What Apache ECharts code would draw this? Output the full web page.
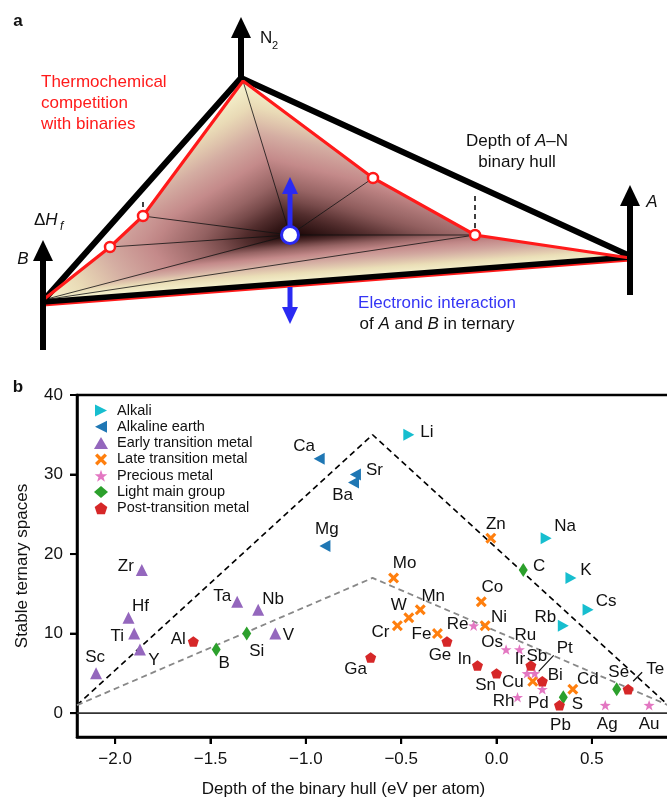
<!DOCTYPE html>
<html>
<head>
<meta charset="utf-8">
<script src="https://cdn.jsdelivr.net/npm/echarts@6/dist/echarts.min.js"></script>
<style>
  html, body { margin: 0; padding: 0; background: #fff; }
  #chart { width: 667px; height: 801px; }
</style>
</head>
<body>
<div id="chart"></div>
<script>
var FONT = '"Liberation Sans", Arial, Helvetica, sans-serif';

// ---- panel b: [element, depth of binary hull (eV/atom), stable ternary spaces]
var alkali = [['Li', -0.46, 35], ['Na', 0.26, 22], ['K', 0.39, 17], ['Rb', 0.35, 11], ['Cs', 0.48, 13]];
var alkalineEarth = [['Ca', -0.93, 32], ['Sr', -0.74, 30], ['Ba', -0.75, 29], ['Mg', -0.90, 21]];
var earlyTM = [['Zr', -1.86, 18], ['Hf', -1.93, 12], ['Ti', -1.90, 10], ['Y', -1.87, 8], ['Sc', -2.10, 5],
  ['Ta', -1.36, 14], ['Nb', -1.25, 13], ['V', -1.16, 10]];
var lateTM = [['Zn', -0.03, 22], ['Mo', -0.54, 17], ['Co', -0.08, 14], ['Mn', -0.40, 13], ['W', -0.46, 12],
  ['Cr', -0.52, 11], ['Ni', -0.06, 11], ['Fe', -0.31, 10], ['Cu', 0.19, 4], ['Cd', 0.40, 3]];
var precious = [['Re', -0.12, 11], ['Os', 0.05, 8], ['Ru', 0.12, 8], ['Ir', 0.16, 5], ['Pt', 0.20, 5],
  ['Pd', 0.24, 3], ['Rh', 0.11, 2], ['Ag', 0.57, 1], ['Au', 0.80, 1]];
var lightMain = [['C', 0.14, 18], ['B', -1.47, 8], ['Si', -1.31, 10], ['S', 0.35, 2], ['Se', 0.63, 3]];
var postTM = [['Al', -1.59, 9], ['Ga', -0.66, 7], ['Ge', -0.26, 9], ['In', -0.10, 6], ['Sn', 0.00, 5],
  ['Sb', 0.18, 6], ['Bi', 0.24, 4], ['Pb', 0.33, 1], ['Te', 0.69, 3]];

var outerHull = [[-2.2, 1], [-0.65, 35], [0.9, 1]];
var innerHull = [[-2.2, 1], [-0.65, 17], [0.9, 1]];
var zeroLine = [[-2.2, 0], [0.92, 0]];
var xMin = -2.2, yMin = -3;
var xTicks = [-2, -1.5, -1, -0.5, 0, 0.5];
var yTicks = [0, 10, 20, 30, 40];

// label placement (px, label centre relative to marker centre)
var labelOffset = {
  Li: [18, -2], Na: [19, -12], K: [15, -8], Rb: [-18, -8], Cs: [18, -8],
  Ca: [-15, -12], Sr: [19, -4], Ba: [-11, 13], Mg: [2, -17],
  Zr: [-16, -4], Hf: [12, -11], Ti: [-17, 3], Y: [14, 11], Sc: [-1, -16], Ta: [-15, -5], Nb: [15, -10], V: [13, 2],
  Zn: [5, -14], Mo: [11, -15], Co: [11, -14], Mn: [13, -13], W: [-10, -12], Cr: [-17, 7], Ni: [14, -8],
  Fe: [-16, 1], Cu: [-20, 1], Cd: [15, -10],
  Re: [-16, -1], Os: [-14, -7], Ru: [6, -14], Ir: [-7, -14], Pt: [30, -25], Pd: [-4, 14], Rh: [-14, 4],
  Ag: [2, 19], Au: [0, 19],
  C: [16, -4], B: [8, 14], Si: [10, 18], S: [14, 7], Se: [2, -17],
  Al: [-15, -2], Ga: [-15, 12], Ge: [-7, 14], In: [-13, -6], Sn: [-11, 12], Sb: [6, -9], Bi: [13, -6],
  Pb: [1, 20], Te: [27, -20]
};
var leaderOffset = { Pt: [[4, -2], [19, -18]], Te: [[5, -8], [14, -17]] };

// ---- panel a: schematic hull (px of the upper panel)
var V = { B: [43, 300], h1: [110, 247], h2: [143, 216], N: [243, 81], h3: [373, 178], h4: [475, 235], A: [630, 258], C: [290, 235] };
var depth = { B: 0, A: 0, N: 0, h1: 0.36, h2: 0.4, h3: 0.46, h4: 0.62, C: 1 };
var facets = [['C', 'B', 'h1'], ['C', 'h1', 'h2'], ['C', 'h2', 'N'], ['C', 'N', 'h3'], ['C', 'h3', 'h4'], ['C', 'h4', 'B'], ['B', 'h4', 'A']];
var innerEdges = [['C', 'N'], ['C', 'h2'], ['C', 'h1'], ['C', 'B'], ['C', 'h3'], ['C', 'h4'], ['B', 'h4']];
var redHull = ['B', 'h1', 'h2', 'N', 'h3', 'h4', 'A'];
var hullPoints = ['h1', 'h2', 'h3', 'h4'];
var blackFrame = [[43, 301], [241, 78], [630, 256]];
var blackBase = [[43, 302], [630, 257]];
var redBase = [[43, 305], [630, 260]];
var marks = [[[475, 228], [475, 193]], [[143, 207], [143, 199]]];
var blackArrows = [[241, 80, 241, 17], [43, 350, 43, 240], [630, 295, 630, 185]];
var blueArrows = [[290, 226, 290, 177], [290, 287, 290, 324]];

var cmapStops = [[0, '#f6f3cf'], [0.15, '#ebdfb8'], [0.35, '#d2a8a0'], [0.5, '#c48a8a'], [0.7, '#8e5c5c'],
  [0.85, '#4c2828'], [1, '#180505']];

function hexRgb(h) {
  return [parseInt(h.slice(1, 3), 16), parseInt(h.slice(3, 5), 16), parseInt(h.slice(5, 7), 16)];
}
function cmap(t) {
  for (var i = 1; i < cmapStops.length; i++) {
    if (t <= cmapStops[i][0] || i == cmapStops.length - 1) {
      var a = cmapStops[i - 1], b = cmapStops[i];
      var f = Math.max(0, Math.min(1, (t - a[0]) / (b[0] - a[0])));
      var ca = hexRgb(a[1]), cb = hexRgb(b[1]);
      return 'rgb(' + ca.map(function (c, k) { return Math.round(c + (cb[k] - c) * f); }).join(',') + ')';
    }
  }
}

// each facet is shaded linearly between its vertex depths
function renderFacet(params, api) {
  var f = facets[params.dataIndex];
  var p = f.map(function (k) { return api.coord(V[k]); });
  var v = f.map(function (k) { return depth[k]; });
  var e1 = [p[1][0] - p[0][0], p[1][1] - p[0][1]];
  var e2 = [p[2][0] - p[0][0], p[2][1] - p[0][1]];
  var dv1 = v[1] - v[0], dv2 = v[2] - v[0];
  var det = e1[0] * e2[1] - e1[1] * e2[0];
  var gx = (dv1 * e2[1] - dv2 * e1[1]) / det;
  var gy = (e1[0] * dv2 - e2[0] * dv1) / det;
  var im = 0;
  for (var i = 1; i < 3; i++) if (v[i] < v[im]) im = i;
  var vmin = Math.min.apply(null, v), vmax = Math.max.apply(null, v);
  var s = (vmax - vmin) / (gx * gx + gy * gy);
  var stops = [];
  for (var k = 0; k <= 12; k++) {
    stops.push({ offset: k / 12, color: cmap(vmin + (vmax - vmin) * k / 12) });
  }
  var grad = {
    type: 'linear', global: true,
    x: p[im][0], y: p[im][1], x2: p[im][0] + gx * s, y2: p[im][1] + gy * s,
    colorStops: stops
  };
  return { type: 'polygon', shape: { points: p }, style: { fill: grad, stroke: grad, lineWidth: 0.8 } };
}

function segments(list, style) {
  return function (params, api) {
    var s = list[params.dataIndex];
    var a = api.coord(s[0]), b = api.coord(s[1]);
    return { type: 'line', shape: { x1: a[0], y1: a[1], x2: b[0], y2: b[1] }, style: style };
  };
}

function arrows(list, color, shaft, headLen, headW) {
  return function (params, api) {
    var r = list[params.dataIndex];
    var a = api.coord([r[0], r[1]]), t = api.coord([r[2], r[3]]);
    var dx = t[0] - a[0], dy = t[1] - a[1], L = Math.sqrt(dx * dx + dy * dy);
    dx /= L; dy /= L;
    var b = [t[0] - dx * headLen, t[1] - dy * headLen];
    var px = -dy * headW / 2, py = dx * headW / 2;
    return {
      type: 'group',
      children: [
        { type: 'line', shape: { x1: a[0], y1: a[1], x2: b[0] + dx, y2: b[1] + dy }, style: { stroke: color, lineWidth: shaft } },
        { type: 'polygon', shape: { points: [t, [b[0] + px, b[1] + py], [b[0] - px, b[1] - py]] }, style: { fill: color } }
      ]
    };
  };
}

function items(list) {
  return list.map(function (e) {
    return { name: e[0], value: [e[1], e[2]], label: { offset: labelOffset[e[0]] || [0, -15] } };
  });
}

var leaderList = precious.concat(postTM).filter(function (e) { return leaderOffset[e[0]]; });

var RED = '#ff1a1a';
var BLUE = '#2a2af2';
var pentagon = 'path://M0,-1L0.951,-0.309L0.588,0.809L-0.588,0.809L-0.951,-0.309Z';
var star = 'path://M0,-1L0.235,-0.324L0.951,-0.309L0.380,0.124L0.588,0.809L0,0.4L-0.588,0.809L-0.380,0.124L-0.951,-0.309L-0.235,-0.324Z';
var cross = 'path://M-1,-0.6L-0.6,-1L0,-0.4L0.6,-1L1,-0.6L0.4,0L1,0.6L0.6,1L0,0.4L-0.6,1L-1,0.6L-0.4,0Z';
var triRight = 'path://M0,0L10,5L0,10Z';
var triLeft = 'path://M10,0L0,5L10,10Z';

function scatterSeries(name, list, symbol, size, color, keep) {
  return {
    type: 'scatter', name: name, xAxisIndex: 1, yAxisIndex: 1,
    symbol: symbol, symbolSize: size, symbolKeepAspect: !!keep,
    itemStyle: { color: color, opacity: 1 },
    data: items(list),
    label: {
      show: true, position: 'inside', formatter: '{b}',
      color: '#111', fontSize: 17, fontFamily: FONT
    },
    emphasis: { disabled: true },
    z: 6
  };
}

function txt(x, y, text, opts) {
  opts = opts || {};
  return {
    type: 'text', x: x, y: y, silent: true, z: 50,
    style: {
      text: text, fill: opts.color || '#111',
      font: (opts.style || '') + ' ' + (opts.weight || '') + ' ' + (opts.size || 17) + 'px ' + FONT,
      align: opts.align || 'left', verticalAlign: 'middle', rich: opts.rich
    }
  };
}

function richText(color) {
  return {
    n: { fontSize: 17, fontFamily: FONT, color: color },
    i: { fontSize: 17, fontFamily: FONT, fontStyle: 'italic', color: color }
  };
}

var texts = [
  txt(18, 21, 'a', { weight: 'bold', size: 17, align: 'center' }),
  txt(18, 387, 'b', { weight: 'bold', size: 17, align: 'center' }),
  txt(260, 38, 'N'),
  txt(272, 46, '2', { size: 11 }),
  txt(34, 220, '{n|\u0394}{i|H}', { rich: richText('#111') }),
  txt(60, 227, 'f', { style: 'italic', size: 12 }),
  txt(23, 259, 'B', { style: 'italic', align: 'center' }),
  txt(652, 202, 'A', { style: 'italic', align: 'center' }),
  txt(41, 82, 'Thermochemical', { color: RED }),
  txt(41, 103, 'competition', { color: RED }),
  txt(41, 124, 'with binaries', { color: RED }),
  txt(517, 141, '{n|Depth of }{i|A}{n|\u2013N}', { align: 'center', rich: richText('#111') }),
  txt(517, 162, 'binary hull', { align: 'center' }),
  txt(437, 303, 'Electronic interaction', { align: 'center', color: '#3535f5' }),
  txt(437, 324, '{n|of }{i|A}{n| and }{i|B}{n| in ternary}', { align: 'center', rich: richText('#3535f5') })
];

var axisLineStyle = { show: true, onZero: false, lineStyle: { color: '#000', width: 2.5 } };

var chart = echarts.init(document.getElementById('chart'), null, { renderer: 'canvas' });
chart.setOption({
  animation: false,
  backgroundColor: '#fff',
  grid: [
    { left: 0, top: 0, width: 667, height: 360, containLabel: false, outerBoundsMode: 'none' },
    {
      left: 77, top: 395, right: -5, bottom: 64, containLabel: false, outerBoundsMode: 'none',
      show: true, borderColor: '#000', borderWidth: 2.5, backgroundColor: 'transparent'
    }
  ],
  xAxis: [
    { gridIndex: 0, type: 'value', min: 0, max: 667, show: false },
    {
      gridIndex: 1, type: 'value', min: xMin, max: 0.92, position: 'bottom',
      splitLine: { show: false }, axisLine: axisLineStyle,
      axisTick: { show: true, inside: false, length: 7, lineStyle: { color: '#000', width: 2 }, customValues: xTicks },
      axisLabel: {
        customValues: xTicks, margin: 14, fontSize: 17, color: '#111', fontFamily: FONT,
        formatter: function (v) { return (v < 0 ? '\u2212' : '') + Math.abs(v).toFixed(1); }
      },
      name: 'Depth of the binary hull (eV per atom)', nameLocation: 'middle', nameGap: 44,
      nameTextStyle: { fontSize: 17, color: '#111', fontFamily: FONT, padding: [0, 62, 0, 0] }
    }
  ],
  yAxis: [
    { gridIndex: 0, type: 'value', min: 0, max: 360, inverse: true, show: false },
    {
      gridIndex: 1, type: 'value', min: yMin, max: 40, position: 'left',
      splitLine: { show: false }, axisLine: axisLineStyle,
      axisTick: { show: true, inside: false, length: 7, lineStyle: { color: '#000', width: 2 }, customValues: yTicks },
      axisLabel: { customValues: yTicks, margin: 14, fontSize: 17, color: '#111', fontFamily: FONT },
      name: 'Stable ternary spaces', nameLocation: 'middle', nameGap: 46,
      nameTextStyle: { fontSize: 17, color: '#111', fontFamily: FONT }
    }
  ],
  legend: {
    orient: 'vertical', left: 94, top: 403, padding: 0, itemWidth: 14, itemHeight: 12, itemGap: 1.3,
    selectedMode: false,
    textStyle: { fontSize: 14.5, fontFamily: FONT, color: '#111', padding: [0, 0, 0, 4] },
    data: ['Alkali', 'Alkaline earth', 'Early transition metal', 'Late transition metal',
      'Precious metal', 'Light main group', 'Post-transition metal']
  },
  series: [
    // ---------- panel a
    { type: 'custom', xAxisIndex: 0, yAxisIndex: 0, silent: true, z: 1,
      renderItem: renderFacet, data: facets.map(function (f) { return V[f[0]]; }) },
    { type: 'custom', xAxisIndex: 0, yAxisIndex: 0, silent: true, z: 2,
      renderItem: segments(innerEdges.map(function (e) { return [V[e[0]], V[e[1]]]; }), { stroke: '#111', lineWidth: 0.8 }),
      data: innerEdges.map(function (e) { return V[e[0]]; }) },
    { type: 'line', xAxisIndex: 0, yAxisIndex: 0, silent: true, z: 3, symbol: 'none',
      lineStyle: { color: '#000', width: 6, join: 'miter', cap: 'butt' }, data: blackFrame },
    { type: 'line', xAxisIndex: 0, yAxisIndex: 0, silent: true, z: 3, symbol: 'none',
      lineStyle: { color: RED, width: 3 }, data: redBase },
    { type: 'line', xAxisIndex: 0, yAxisIndex: 0, silent: true, z: 4, symbol: 'none',
      lineStyle: { color: '#000', width: 5.5 }, data: blackBase },
    { type: 'line', xAxisIndex: 0, yAxisIndex: 0, silent: true, z: 5, symbol: 'none',
      lineStyle: { color: RED, width: 3.2, join: 'miter' }, data: redHull.map(function (k) { return V[k]; }) },
    { type: 'custom', xAxisIndex: 0, yAxisIndex: 0, silent: true, z: 5,
      renderItem: segments(marks, { stroke: '#111', lineWidth: 1.6, lineDash: [5, 4] }),
      data: marks.map(function (m) { return m[0]; }) },
    { type: 'custom', xAxisIndex: 0, yAxisIndex: 0, silent: true, z: 6,
      renderItem: arrows(blackArrows, '#000', 6, 21, 20), data: blackArrows.map(function (r) { return [r[0], r[1]]; }) },
    { type: 'custom', xAxisIndex: 0, yAxisIndex: 0, silent: true, z: 6,
      renderItem: arrows(blueArrows, BLUE, 5, 17, 16), data: blueArrows.map(function (r) { return [r[0], r[1]]; }) },
    { type: 'scatter', xAxisIndex: 0, yAxisIndex: 0, silent: true, z: 7, symbol: 'circle', symbolSize: 10,
      itemStyle: { color: '#fff', opacity: 1, borderColor: RED, borderWidth: 2.5 }, data: hullPoints.map(function (k) { return V[k]; }) },
    { type: 'scatter', xAxisIndex: 0, yAxisIndex: 0, silent: true, z: 8, symbol: 'circle', symbolSize: 17,
      itemStyle: { color: '#fff', opacity: 1, borderColor: BLUE, borderWidth: 3 }, data: [V.C] },

    // ---------- panel b
    { type: 'line', xAxisIndex: 1, yAxisIndex: 1, silent: true, z: 2, symbol: 'none',
      lineStyle: { color: '#333', width: 1.8 }, data: zeroLine },
    { type: 'line', xAxisIndex: 1, yAxisIndex: 1, silent: true, z: 3, symbol: 'none',
      lineStyle: { color: '#000', width: 1.6, type: [6, 4] }, data: outerHull },
    { type: 'line', xAxisIndex: 1, yAxisIndex: 1, silent: true, z: 3, symbol: 'none',
      lineStyle: { color: '#888', width: 1.8, type: [6, 4] }, data: innerHull },
    { type: 'custom', xAxisIndex: 1, yAxisIndex: 1, silent: true, z: 4,
      renderItem: function (params, api) {
        var e = leaderList[params.dataIndex];
        var c = api.coord([e[1], e[2]]), o = leaderOffset[e[0]];
        return { type: 'line', shape: { x1: c[0] + o[0][0], y1: c[1] + o[0][1], x2: c[0] + o[1][0], y2: c[1] + o[1][1] },
          style: { stroke: '#111', lineWidth: 1.2 } };
      },
      data: leaderList.map(function (e) { return [e[1], e[2]]; }) },
    scatterSeries('Alkali', alkali, triRight, [11, 12], '#17becf'),
    scatterSeries('Alkaline earth', alkalineEarth, triLeft, [11, 12], '#1f77b4'),
    scatterSeries('Early transition metal', earlyTM, 'triangle', 12, '#9467bd'),
    scatterSeries('Late transition metal', lateTM, cross, 11, '#ff7f0e'),
    scatterSeries('Precious metal', precious, star, 11, '#e377c2', true),
    scatterSeries('Light main group', lightMain, 'diamond', [9, 14], '#2ca02c'),
    scatterSeries('Post-transition metal', postTM, pentagon, 11, '#d62728', true)
  ],
  graphic: { elements: texts }
});

// outward frame ticks, positioned through panel b's axis scales
var ticks = [];
var pb = { xAxisIndex: 1, yAxisIndex: 1 };
xTicks.forEach(function (v) {
  var p = chart.convertToPixel(pb, [v, yMin]);
  ticks.push({ type: 'line', silent: true, z: 60, shape: { x1: p[0], y1: p[1], x2: p[0], y2: p[1] + 7 }, style: { stroke: '#000', lineWidth: 2 } });
});
yTicks.forEach(function (v) {
  var p = chart.convertToPixel(pb, [xMin, v]);
  ticks.push({ type: 'line', silent: true, z: 60, shape: { x1: p[0] - 7, y1: p[1], x2: p[0], y2: p[1] }, style: { stroke: '#000', lineWidth: 2 } });
});
chart.setOption({ graphic: { elements: texts.concat(ticks) } });
</script>
</body>
</html>
